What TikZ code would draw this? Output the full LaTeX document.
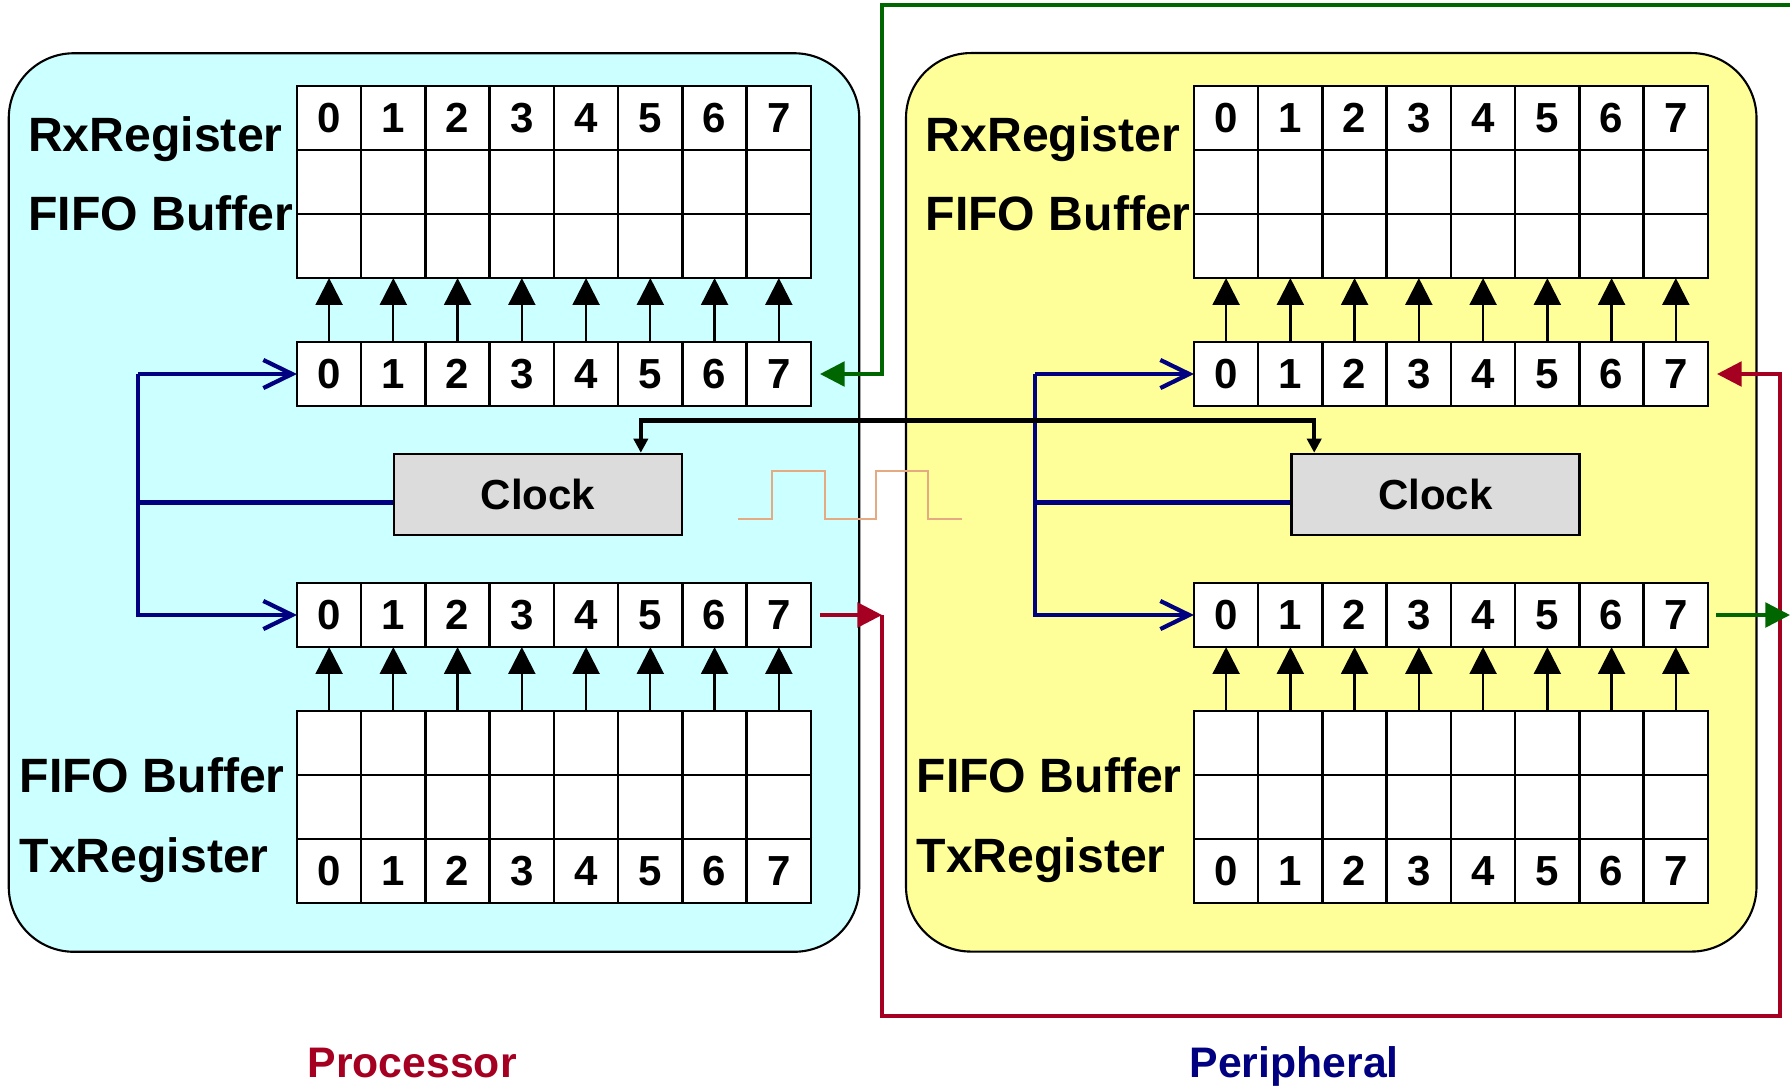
\documentclass[tikz,border=0pt]{standalone}
\usepackage{fontspec}
\setmainfont{Liberation Sans}
\usetikzlibrary{arrows.meta, positioning}

\definecolor{procfill}{HTML}{CCFFFF}
\definecolor{perifill}{HTML}{FFFF99}
\definecolor{clockgray}{HTML}{DCDCDC}
\definecolor{busblue}{HTML}{000080}
\definecolor{wiregreen}{HTML}{006600}
\definecolor{wirered}{HTML}{A50021}
\definecolor{pulsecol}{HTML}{E6AA82}

\begin{document}
\begin{tikzpicture}[
    x=0.01cm, y=-0.01cm,
    panel/.style={rectangle, draw, rounded corners=0.65cm, line width=0.6pt, minimum width=8.5cm, minimum height=8.98cm},
    cell/.style={rectangle, draw, fill=white, line width=0.7pt, minimum width=0.6425cm, minimum height=0.64cm, inner sep=0pt, outer sep=0pt, font=\fontsize{11.95}{14}\selectfont\bfseries},
    clockbox/.style={rectangle, draw, fill=clockgray, line width=0.7pt, minimum width=2.88cm, minimum height=0.81cm, font=\fontsize{11.95}{14}\selectfont\bfseries},
    reglabel/.style={anchor=base west, inner sep=0pt, font=\fontsize{13.7}{16}\selectfont\bfseries},
    sidelabel/.style={anchor=base west, inner sep=0pt, font=\fontsize{12.15}{14}\selectfont\bfseries},
    bitarrow/.style={-{Triangle[length=7.6pt, width=7.6pt]}, line width=0.65pt},
    bus/.style={busblue, line width=1.2pt},
    busarrow/.style={bus, -{Straight Barb[length=8.2pt, width=8pt]}},
    wire/.style={line width=1pt, -{Triangle[length=7pt, width=7pt]}},
    sync/.style={line width=1.3pt, {Triangle[length=4pt, width=4pt]}-{Triangle[length=4pt, width=4pt]}},
]
\useasboundingbox (0,0) rectangle (1790,1090);

% ===== PANELS =====
\node[panel, fill=procfill] (proc) at (434,502.5) {};
\node[panel, fill=perifill] (peri) at (1331.25,502.3) {};

% clock pulse between the panels
\draw[pulsecol, line width=0.6pt] (738,519) -- (772,519) -- (772,471) -- (825,471) -- (825,519)
    -- (876,519) -- (876,471) -- (928,471) -- (928,519) -- (962,519);

% ===== REGISTERS AND FIFO BUFFERS =====
\foreach \p/\ox in {L/0, R/897} {
  \foreach \c in {0,...,7} {
    \node[cell] (\p-rxbuf-0-\c) at ({329.1+\ox+64.25*\c},118) {\c};
    \node[cell] (\p-rxbuf-1-\c) at ({329.1+\ox+64.25*\c},182) {};
    \node[cell] (\p-rxbuf-2-\c) at ({329.1+\ox+64.25*\c},246) {};
    \node[cell] (\p-rxsh-\c) at ({329.1+\ox+64.25*\c},374) {\c};
    \node[cell] (\p-txsh-\c) at ({329.1+\ox+64.25*\c},615) {\c};
    \node[cell] (\p-txbuf-0-\c) at ({329.1+\ox+64.25*\c},743) {};
    \node[cell] (\p-txbuf-1-\c) at ({329.1+\ox+64.25*\c},807) {};
    \node[cell] (\p-txbuf-2-\c) at ({329.1+\ox+64.25*\c},871) {\c};
    \draw[bitarrow] (\p-rxsh-\c.north) -- (\p-rxbuf-2-\c.south);
    \draw[bitarrow] (\p-txbuf-0-\c.north) -- (\p-txsh-\c.south);
  }
}

% ===== PROCESSOR =====
\node[reglabel] (Lrxlbl) at (27.5,151.7) {RxRegister};
\node[reglabel] (Lrxfifo) at (27.5,230.7) {FIFO Buffer};
\node[reglabel] (Ltxfifo) at (19,792.6) {FIFO Buffer};
\node[reglabel] (Ltxlbl) at (19,872.7) {TxRegister};

\node[clockbox] (clkL) at (538,494.5) {Clock};

\coordinate (Lbus) at (138,374);
\coordinate (Lclkout) at ([yshift=-0.08cm]clkL.west);
\draw[busarrow] (Lbus) -- (L-rxsh-0.west);
\draw[busarrow] (Lbus) |- (L-txsh-0.west);
\draw[bus] (Lclkout) -- (Lclkout -| Lbus);

\node[sidelabel, text=wirered] (proclbl) at (307,1077) {Processor};

% ===== PERIPHERAL =====
\node[reglabel] (Rrxlbl) at (925,151.7) {RxRegister};
\node[reglabel] (Rrxfifo) at (925,230.7) {FIFO Buffer};
\node[reglabel] (Rtxfifo) at (916,792.6) {FIFO Buffer};
\node[reglabel] (Rtxlbl) at (916,872.7) {TxRegister};

\node[clockbox] (clkR) at (1435.5,494.5) {Clock};

\coordinate (Rbus) at (1035,374);
\coordinate (Rclkout) at ([yshift=-0.08cm]clkR.west);
\draw[busarrow] (Rbus) -- (R-rxsh-0.west);
\draw[busarrow] (Rbus) |- (R-txsh-0.west);
\draw[bus] (Rclkout) -- (Rclkout -| Rbus);

\node[sidelabel, text=busblue] (perilbl) at (1189,1077) {Peripheral};

% ===== CLOCK SYNC =====
\draw[sync] ([xshift=2.48cm]clkL.north west) -- ++(0,-32) -| ([xshift=0.24cm]clkR.north west);

% ===== SERIAL LINES =====
\coordinate (rturn) at (882,615);
\coordinate (rloop) at (1780,1016);
\draw[wire, wirered, shorten <=0.09cm] (L-txsh-7.east) -- (rturn);
\draw[wire, wirered, shorten >=0.09cm] (rturn) |- (rloop) |- (R-rxsh-7.east);

\coordinate (gin) at (1790,5);
\coordinate (gdrop) at (882,374);
\coordinate (gout) at (1790,615);
\draw[wire, wiregreen, shorten >=0.09cm] (gin) -| (gdrop) -- (L-rxsh-7.east);
\draw[wire, wiregreen, shorten <=0.08cm] (R-txsh-7.east) -- (gout);

\end{tikzpicture}
\end{document}
